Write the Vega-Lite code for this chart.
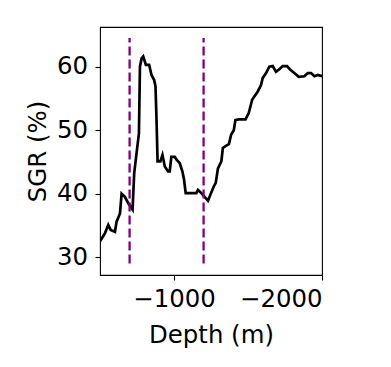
{
  "$schema": "https://vega.github.io/schema/vega-lite/v6.json",
  "width": 222,
  "height": 248,
  "autosize": {"type": "none"},
  "padding": {"left": 100, "top": 27, "right": 69, "bottom": 92},
  "background": "white",
  "config": {
    "font": "DejaVu Sans",
    "view": {"stroke": "#000000", "strokeWidth": 1.1},
    "axis": {"grid": false, "domain": false, "tickColor": "#000000", "tickWidth": 1.1, "tickSize": 5,
      "labelFont": "DejaVu Sans", "labelFontSize": 24.4, "labelColor": "#000000",
      "titleFont": "DejaVu Sans", "titleFontSize": 24.4, "titleFontWeight": "normal", "titleColor": "#000000"}
  },
  "datasets": {
    "sgr": [
      {"depth": -500, "sgr": 32.5}, {"depth": -534, "sgr": 33.8}, {"depth": -556, "sgr": 35.1}, {"depth": -572, "sgr": 34.3},
      {"depth": -601, "sgr": 34.0}, {"depth": -612, "sgr": 35.6}, {"depth": -635, "sgr": 36.9}, {"depth": -646, "sgr": 40.0},
      {"depth": -668, "sgr": 39.5}, {"depth": -691, "sgr": 38.5}, {"depth": -720, "sgr": 37.5}, {"depth": -731, "sgr": 43.2},
      {"depth": -747, "sgr": 46.4}, {"depth": -763, "sgr": 49.5}, {"depth": -770, "sgr": 60.0}, {"depth": -781, "sgr": 61.3},
      {"depth": -792, "sgr": 61.6}, {"depth": -810, "sgr": 60.3}, {"depth": -832, "sgr": 60.3}, {"depth": -848, "sgr": 58.7},
      {"depth": -866, "sgr": 57.9}, {"depth": -875, "sgr": 56.9}, {"depth": -882, "sgr": 51.6}, {"depth": -889, "sgr": 45.1},
      {"depth": -908, "sgr": 45.1}, {"depth": -922, "sgr": 46.1}, {"depth": -938, "sgr": 44.3}, {"depth": -960, "sgr": 43.5},
      {"depth": -971, "sgr": 43.5}, {"depth": -982, "sgr": 45.8}, {"depth": -1005, "sgr": 45.8}, {"depth": -1020, "sgr": 45.3},
      {"depth": -1039, "sgr": 44.8}, {"depth": -1057, "sgr": 43.5}, {"depth": -1068, "sgr": 42.2}, {"depth": -1079, "sgr": 40.1},
      {"depth": -1151, "sgr": 40.1}, {"depth": -1162, "sgr": 40.6}, {"depth": -1185, "sgr": 40.1}, {"depth": -1207, "sgr": 39.5},
      {"depth": -1230, "sgr": 38.9}, {"depth": -1245, "sgr": 39.8}, {"depth": -1268, "sgr": 41.1}, {"depth": -1282, "sgr": 41.7},
      {"depth": -1297, "sgr": 44.0}, {"depth": -1320, "sgr": 45.1}, {"depth": -1330, "sgr": 47.2}, {"depth": -1348, "sgr": 47.5},
      {"depth": -1371, "sgr": 47.8}, {"depth": -1386, "sgr": 49.3}, {"depth": -1404, "sgr": 50.0}, {"depth": -1415, "sgr": 51.6},
      {"depth": -1438, "sgr": 51.7}, {"depth": -1483, "sgr": 51.7}, {"depth": -1505, "sgr": 52.7}, {"depth": -1528, "sgr": 54.8},
      {"depth": -1543, "sgr": 55.3}, {"depth": -1566, "sgr": 56.1}, {"depth": -1588, "sgr": 57.1}, {"depth": -1599, "sgr": 58.2},
      {"depth": -1622, "sgr": 59.0}, {"depth": -1644, "sgr": 60.0}, {"depth": -1667, "sgr": 60.1}, {"depth": -1689, "sgr": 59.2},
      {"depth": -1712, "sgr": 59.6}, {"depth": -1734, "sgr": 60.1}, {"depth": -1764, "sgr": 60.1}, {"depth": -1786, "sgr": 59.5},
      {"depth": -1813, "sgr": 59.0}, {"depth": -1843, "sgr": 58.4}, {"depth": -1881, "sgr": 58.5}, {"depth": -1904, "sgr": 59.0},
      {"depth": -1926, "sgr": 59.0}, {"depth": -1949, "sgr": 58.5}, {"depth": -1971, "sgr": 58.7}, {"depth": -2000, "sgr": 58.5}
    ],
    "marks": [
      {"depth": -700, "low": 29.0, "high": 64.5},
      {"depth": -1200, "low": 29.0, "high": 64.5}
    ]
  },
  "layer": [
    {
      "data": {"name": "sgr"},
      "mark": {"type": "line", "color": "#000000", "strokeWidth": 2.7, "clip": true},
      "encoding": {
        "x": {"field": "depth", "type": "quantitative", "sort": null,
          "scale": {"domain": [-2000, -500], "reverse": true, "nice": false, "zero": false},
          "axis": {"values": [-1000, -2000], "format": "d", "title": "Depth (m)", "labelPadding": 26, "labelBaseline": "alphabetic",
            "titleBaseline": "alphabetic", "titleY": 67}},
        "y": {"field": "sgr", "type": "quantitative",
          "scale": {"domain": [27.2, 66.25], "nice": false, "zero": false},
          "axis": {"values": [30, 40, 50, 60], "format": "d", "title": "SGR (%)", "labelPadding": 7.5,
            "titleX": -62, "titleY": 124, "titleBaseline": "middle", "titleAlign": "center", "titleAngle": -90}},
        "order": {"field": "depth", "sort": "descending"}
      }
    },
    {
      "data": {"name": "marks"},
      "mark": {"type": "rule", "color": "#800080", "strokeWidth": 2.3, "strokeDash": [9, 4]},
      "encoding": {
        "x": {"field": "depth", "type": "quantitative"},
        "y": {"field": "low", "type": "quantitative"},
        "y2": {"field": "high"}
      }
    }
  ]
}
